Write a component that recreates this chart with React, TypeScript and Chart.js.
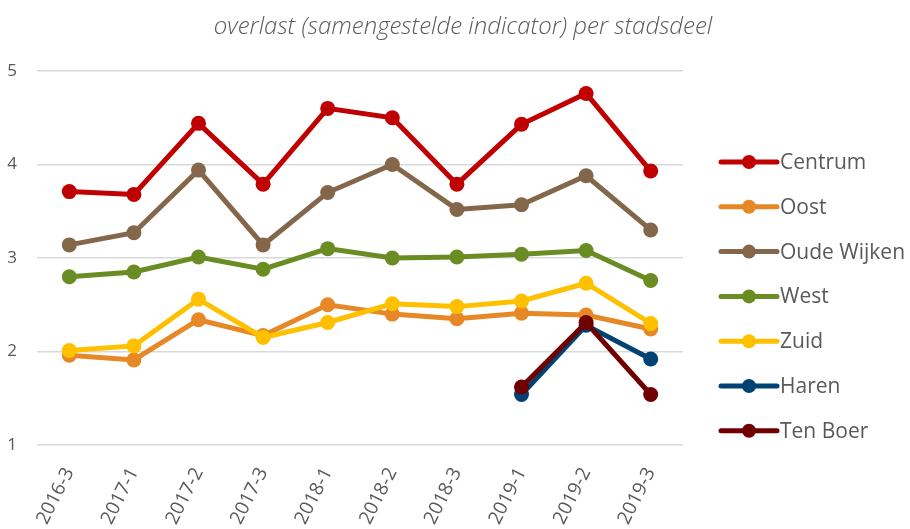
import React, { useEffect, useRef } from "react";
import { Chart, registerables } from "chart.js";

Chart.register(...registerables);

const categories = ["2016-3", "2017-1", "2017-2", "2017-3", "2018-1", "2018-2", "2018-3", "2019-1", "2019-2", "2019-3"];
const seriesNames = ["Centrum", "Oost", "Oude Wijken", "West", "Zuid", "Haren", "Ten Boer"];
const centrum = [3.71, 3.68, 4.44, 3.79, 4.60, 4.50, 3.79, 4.43, 4.76, 3.93];
const oost = [1.96, 1.91, 2.34, 2.17, 2.50, 2.40, 2.35, 2.41, 2.39, 2.24];
const oudeWijken = [3.14, 3.27, 3.94, 3.14, 3.70, 4.00, 3.52, 3.57, 3.88, 3.30];
const west = [2.80, 2.85, 3.01, 2.88, 3.10, 3.00, 3.01, 3.04, 3.08, 2.76];
const zuid = [2.01, 2.06, 2.56, 2.15, 2.31, 2.51, 2.48, 2.54, 2.73, 2.30];
const haren = [null, null, null, null, null, null, null, 1.54, 2.28, 1.92];
const tenBoer = [null, null, null, null, null, null, null, 1.62, 2.31, 1.54];
const seriesValues = [centrum, oost, oudeWijken, west, zuid, haren, tenBoer];
const seriesColors = ["#C00000", "#E78826", "#84674A", "#6A8D23", "#FFC000", "#004373", "#700000"];
const yTicks = [1, 2, 3, 4, 5];
const titleText = "overlast (samengestelde indicator) per stadsdeel";

const FONT = "'Open Sans', 'Noto Sans', sans-serif";
const TEXT_COLOR = "#595959";

const decorPlugin = {
  id: "decor",
  afterDraw(chart: any) {
    const ctx = chart.ctx;
    ctx.save();
    // title
    ctx.fillStyle = TEXT_COLOR;
    ctx.font = `italic 300 24px ${FONT}`;
    ctx.textAlign = "center";
    ctx.textBaseline = "middle";
    ctx.fillText(titleText, 463, 27);
    // legend
    const x0 = 721;
    const x1 = 777;
    const top = 162;
    const step = 44.8;
    chart.data.datasets.forEach((ds: any, i: number) => {
      const cy = top + i * step;
      ctx.strokeStyle = ds.borderColor;
      ctx.lineWidth = 5;
      ctx.lineCap = "round";
      ctx.beginPath();
      ctx.moveTo(x0, cy);
      ctx.lineTo(x1, cy);
      ctx.stroke();
      ctx.fillStyle = ds.borderColor;
      ctx.beginPath();
      ctx.arc((x0 + x1) / 2, cy, 7, 0, Math.PI * 2);
      ctx.fill();
      ctx.fillStyle = TEXT_COLOR;
      ctx.font = `21px ${FONT}`;
      ctx.textAlign = "left";
      ctx.textBaseline = "middle";
      ctx.fillText(ds.label, 780, cy + 1);
    });
    ctx.restore();
  },
};

export default function App() {
  const ref = useRef<HTMLCanvasElement>(null);
  useEffect(() => {
    if (!ref.current) return;
    const n = seriesNames.length;
    const chart = new Chart(ref.current, {
      type: "line",
      data: {
        labels: categories,
        datasets: seriesNames.map((name, i) => ({
          label: name,
          data: seriesValues[i],
          borderColor: seriesColors[i],
          backgroundColor: seriesColors[i],
          pointBackgroundColor: seriesColors[i],
          pointBorderWidth: 0,
          pointRadius: 7.5,
          borderWidth: 5,
          fill: false,
          tension: 0,
          spanGaps: false,
          order: n - i,
        })),
      },
      options: {
        responsive: false,
        animation: false,
        layout: { padding: { left: 0, right: 227, top: 71, bottom: 0 } },
        plugins: {
          legend: { display: false },
          tooltip: { enabled: false },
          title: { display: false },
        },
        scales: {
          x: {
            type: "category",
            offset: true,
            grid: { display: false, drawTicks: false },
            border: { display: false },
            ticks: {
              color: TEXT_COLOR,
              font: { family: FONT, size: 19 },
              minRotation: 63,
              maxRotation: 63,
              padding: 19,
              autoSkip: false,
            },
            afterFit: (scale: any) => {
              scale.height = 84;
            },
          },
          y: {
            min: 1,
            max: 5,
            afterBuildTicks: (scale: any) => {
              scale.ticks = yTicks.map((v) => ({ value: v }));
            },
            grid: { color: "#D9D9D9", lineWidth: 1.5, drawTicks: false },
            border: { display: false },
            ticks: {
              color: TEXT_COLOR,
              font: { family: FONT, size: 17 },
              padding: 20,
            },
            afterFit: (scale: any) => {
              scale.width = 37;
            },
          },
        },
      },
      plugins: [decorPlugin],
    });
    return () => chart.destroy();
  }, []);
  return (
    <div style={{ position: "absolute", left: 0, top: 0, width: 910, height: 529, background: "#fff" }}>
      <canvas ref={ref} width={910} height={529} style={{ display: "block" }} />
    </div>
  );
}
